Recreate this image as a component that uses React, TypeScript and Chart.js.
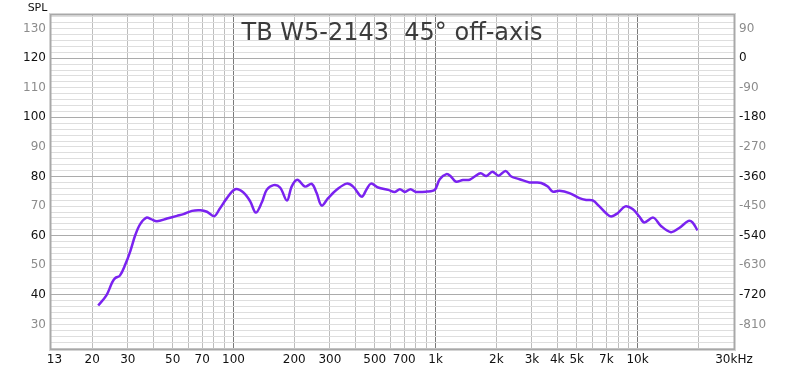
import React, { useEffect, useRef } from "react";
import { Chart, registerables } from "chart.js";

Chart.register(...registerables);

const TITLE = "TB W5-2143  45\u00b0 off-axis";
const Y_LABEL = "SPL";

const FREQS = [21.4, 23.5, 25.1, 26.0, 27.4, 29.2, 30.9, 32.7, 34.6, 37.1, 39.1, 41.8, 46.9, 52.5, 56.6, 62.3, 68.5, 73.9, 80.3, 85.3, 92.8, 102, 112, 121, 129, 138, 146, 158, 170, 184, 194, 207, 226, 244, 258, 273, 294, 324, 363, 391, 431, 456, 479, 520, 583, 629, 666, 705, 752, 798, 902, 991, 1049, 1132, 1185, 1259, 1367, 1475, 1562, 1672, 1784, 1910, 2052, 2222, 2371, 2605, 2919, 3150, 3334, 3593, 3804, 4106, 4599, 5154, 5563, 5995, 6470, 6982, 7389, 7966, 8696, 9447, 10195, 10791, 11952, 13051, 14619, 16066, 17863, 18690, 19790];
const SPL = [36.4, 39.8, 44.2, 45.7, 46.5, 50.4, 54.9, 60.3, 64.0, 66.1, 65.6, 64.9, 65.8, 66.7, 67.3, 68.4, 68.6, 68.1, 66.6, 69.0, 72.7, 75.7, 74.6, 71.6, 67.8, 71.2, 75.5, 77.1, 76.3, 71.9, 76.6, 78.9, 76.6, 77.5, 74.4, 70.2, 72.7, 75.5, 77.6, 76.6, 73.2, 75.7, 77.6, 76.3, 75.5, 74.8, 75.7, 74.8, 75.7, 74.8, 74.9, 75.5, 79.1, 80.8, 80.2, 78.3, 78.8, 78.9, 80.0, 81.1, 80.2, 81.6, 80.3, 81.9, 80.0, 79.1, 78.0, 78.0, 77.8, 76.6, 74.9, 75.2, 74.4, 72.7, 72.1, 71.9, 69.9, 67.6, 66.5, 67.6, 69.9, 69.0, 66.5, 64.5, 66.1, 63.3, 61.2, 62.6, 65.0, 64.5, 61.8];

const X_GRID = [13, 20, 30, 40, 50, 60, 70, 80, 90, 100, 200, 300, 400, 500, 600, 700, 800, 900, 1000, 2000, 3000, 4000, 5000, 6000, 7000, 8000, 9000, 10000, 20000, 30000];
const X_LABELS: Record<number, string> = { 13: "13", 20: "20", 30: "30", 50: "50", 70: "70", 100: "100", 200: "200", 300: "300", 500: "500", 700: "700", 1000: "1k", 2000: "2k", 3000: "3k", 4000: "4k", 5000: "5k", 7000: "7k", 10000: "10k", 30000: "30kHz" };
const Y_TICKS_LEFT = [30, 40, 50, 60, 70, 80, 90, 100, 110, 120, 130];
const Y_TICKS_RIGHT = [-810, -720, -630, -540, -450, -360, -270, -180, -90, 0, 90];

const Y_MIN = 21.7;
const Y_MAX = 134.6;
const X_MIN = 12.5;
const X_MAX = 30000;

const FONT = "'DejaVu Sans', sans-serif";

export default function App() {
  const ref = useRef<HTMLCanvasElement | null>(null);

  useEffect(() => {
    if (!ref.current) return;
    const yMinor: number[] = [];
    for (let v = 22; v <= 134; v += 2) yMinor.push(v);

    const decorations = {
      id: "decorations",
      afterDraw(chart: any) {
        const { ctx, chartArea: a } = chart;
        ctx.save();
        // frame
        ctx.strokeStyle = "#d4d4d4";
        ctx.lineWidth = 1;
        ctx.strokeRect(a.left - 1.5, a.top - 1.5, a.right - a.left + 3, a.bottom - a.top + 3);
        ctx.strokeStyle = "#a8a8a8";
        ctx.lineWidth = 1.5;
        ctx.strokeRect(a.left - 0.25, a.top - 0.25, a.right - a.left + 0.5, a.bottom - a.top + 0.5);
        // title
        ctx.fillStyle = "#3c3c3c";
        ctx.font = `24px ${FONT}`;
        ctx.textAlign = "center";
        ctx.textBaseline = "alphabetic";
        ctx.fillText(TITLE, 392, 39.5);
        // SPL
        ctx.fillStyle = "#111";
        ctx.font = `11px ${FONT}`;
        ctx.fillText(Y_LABEL, 37.5, 11);
        ctx.restore();
      },
    };

    const chart = new Chart(ref.current, {
      type: "line",
      data: {
        datasets: [
          {
            data: FREQS.map((f, i) => ({ x: f, y: SPL[i] })),
            borderColor: "#7a22f0",
            borderWidth: 2.5,
            pointRadius: 0,
            tension: 0.35,
            fill: false,
            yAxisID: "y",
          },
        ],
      },
      options: {
        animation: false,
        responsive: false,
        events: [],
        layout: { padding: { top: 15, left: 0, right: 0, bottom: 0 } },
        plugins: { legend: { display: false }, tooltip: { enabled: false }, title: { display: false } },
        scales: {
          x: {
            type: "logarithmic",
            min: X_MIN,
            max: X_MAX,
            border: { display: false },
            afterBuildTicks: (s: any) => {
              s.ticks = X_GRID.map((v) => ({ value: v }));
            },
            afterFit: (s: any) => {
              s.height = 23;
            },
            grid: {
              drawTicks: false,
              tickLength: 0,
              lineWidth: 1,
              color: (c: any) => {
                const v = c.tick?.value;
                if (v === 13 || v === 30000) return "rgba(0,0,0,0)";
                if (v === 100 || v === 1000 || v === 10000) return "#7a7a7a";
                return "#bdbdbd";
              },
            },
            ticks: {
              autoSkip: false,
              maxRotation: 0,
              minRotation: 0,
              padding: 4,
              color: "#111",
              font: { family: FONT, size: 12 },
              callback: (v: any) => X_LABELS[Number(v)] ?? "",
            },
          },
          y: {
            type: "linear",
            position: "left",
            min: Y_MIN,
            max: Y_MAX,
            border: { display: false },
            afterBuildTicks: (s: any) => {
              s.ticks = yMinor.map((v) => ({ value: v }));
            },
            afterFit: (s: any) => {
              s.width = 51;
            },
            grid: {
              drawTicks: false,
              tickLength: 0,
              lineWidth: 1,
              color: (c: any) => (c.tick?.value % 20 === 0 ? "#ababab" : "#dedede"),
            },
            ticks: {
              autoSkip: false,
              padding: 5,
              font: { family: FONT, size: 12 },
              color: (c: any) => (c.tick?.value % 20 === 0 ? "#111" : "#8c8c8c"),
              callback: (v: any) => (Y_TICKS_LEFT.includes(Number(v)) ? String(v) : ""),
            },
          },
          y2: {
            type: "linear",
            position: "right",
            min: (Y_MIN - 120) * 9,
            max: (Y_MAX - 120) * 9,
            border: { display: false },
            afterBuildTicks: (s: any) => {
              s.ticks = Y_TICKS_RIGHT.map((v) => ({ value: v }));
            },
            afterFit: (s: any) => {
              s.width = 66;
            },
            grid: { display: false, drawTicks: false, tickLength: 0 },
            ticks: {
              autoSkip: false,
              padding: 5,
              font: { family: FONT, size: 12 },
              color: (c: any) => (c.tick?.value % 180 === 0 ? "#111" : "#8c8c8c"),
              callback: (v: any) => String(v),
            },
          },
        },
      } as any,
      plugins: [decorations],
    });
    return () => chart.destroy();
  }, []);

  return (
    <div style={{ position: "fixed", left: 0, top: 0, width: 800, height: 372, background: "#fff" }}>
      <canvas ref={ref} width={800} height={372} style={{ display: "block", width: 800, height: 372 }} />
    </div>
  );
}
